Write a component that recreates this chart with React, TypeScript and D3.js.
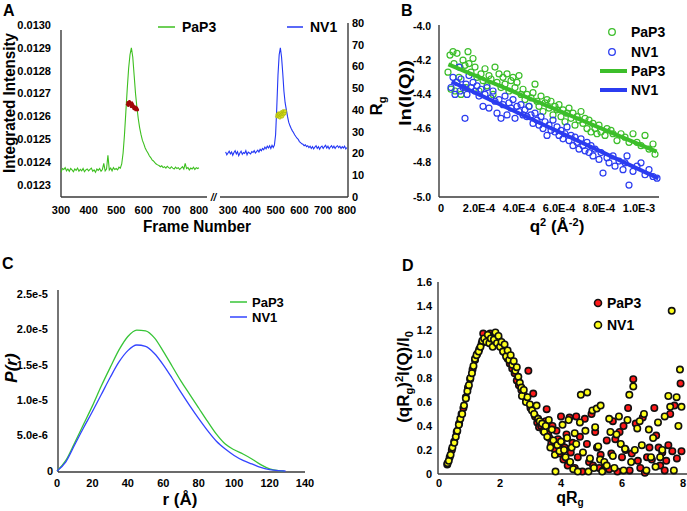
import React from "react";
import * as d3 from "d3";

const W = 687, H = 511;
const FONT = "'Liberation Sans', Arial, Helvetica, sans-serif";

// ---------- Panel A ----------
const frameTicks = [300, 400, 500, 600, 700, 800];
const intensityTicks = [0.0123, 0.0124, 0.0125, 0.0126, 0.0127, 0.0128, 0.0129, 0.0130];
const rgTicks = [0, 10, 20, 30, 40, 50, 60, 70, 80];
const pap3TraceStart = 300;
const pap3Trace = [
  0.012355, 0.012372, 0.012368, 0.012376, 0.012362, 0.01237, 0.01236, 0.012372, 0.012366, 0.012358,
  0.01237, 0.012364, 0.012374, 0.01236, 0.012368, 0.012362, 0.012372, 0.012358, 0.012366, 0.01237,
  0.012362, 0.012368, 0.012374, 0.01236, 0.012366, 0.012356, 0.01237, 0.012364, 0.012372, 0.01236,
  0.012368, 0.012395, 0.012362, 0.01237, 0.01243, 0.012366, 0.012374, 0.012362, 0.012376, 0.012368,
  0.012372, 0.012366, 0.012378, 0.012374, 0.012392, 0.01244, 0.01252, 0.01262, 0.01272, 0.01281,
  0.01287, 0.0129, 0.01286, 0.01278, 0.0127, 0.01264, 0.01259, 0.01255, 0.01252, 0.012495,
  0.01248, 0.012462, 0.01245, 0.01244, 0.012428, 0.01242, 0.01241, 0.012405, 0.012398, 0.012392,
  0.012388, 0.012385, 0.01238, 0.012384, 0.012376, 0.01238, 0.012374, 0.012382, 0.012376, 0.012372,
  0.01238, 0.012374, 0.01237, 0.012378, 0.012372, 0.012376, 0.012368, 0.012374, 0.01238, 0.01237,
  0.012395, 0.012372, 0.012376, 0.012366, 0.012374, 0.01237, 0.012378, 0.012368, 0.012376, 0.012372,
  0.012375,
];
const nv1TraceStart = 290;
const nv1Trace = [
  0.012445, 0.012432, 0.01244, 0.012448, 0.012436, 0.012444, 0.01243, 0.012442, 0.01245, 0.012436,
  0.012446, 0.012428, 0.01244, 0.012448, 0.012434, 0.012442, 0.012438, 0.01245, 0.012432, 0.012444,
  0.01244, 0.012436, 0.012446, 0.012442, 0.01245, 0.01244, 0.012446, 0.012452, 0.012444, 0.012456,
  0.01245, 0.01246, 0.012454, 0.012466, 0.012458, 0.01247, 0.012462, 0.012472, 0.01246, 0.012474,
  0.012464, 0.012475, 0.01252, 0.01264, 0.01278, 0.01287, 0.0129, 0.01286, 0.01279, 0.01271,
  0.01266, 0.01263, 0.0126, 0.012575, 0.01256, 0.012548, 0.012538, 0.01253, 0.01252, 0.012512,
  0.012505, 0.0125, 0.01249, 0.012485, 0.01248, 0.012478, 0.012472, 0.012476, 0.012468, 0.012472,
  0.012464, 0.01247, 0.01246, 0.012468, 0.012458, 0.012466, 0.012472, 0.01246, 0.012468, 0.012456,
  0.012466, 0.01247, 0.01246, 0.012468, 0.012474, 0.012462, 0.01247, 0.012458, 0.012466, 0.012472,
  0.012462, 0.01247, 0.01246, 0.012468, 0.012472, 0.012464, 0.01247, 0.01246, 0.012468, 0.012462,
  0.01247, 0.012458, 0.012464,
];
const pap3RgFrames = [540, 542, 544, 546, 548, 550, 552, 554, 556, 558, 560, 562, 564, 566, 568, 570, 572, 574, 576, 578];
const pap3Rg = [42.5, 43.5, 42, 43, 44, 42.5, 43.5, 41.5, 42.5, 43, 41.5, 42, 40.5, 41.5, 40.5, 41, 40, 41, 40.5, 40];
const nv1RgFrames = [506, 508, 510, 512, 514, 516, 518, 520, 522, 524, 526, 528, 530, 532, 534, 536, 538, 540];
const nv1Rg = [37, 38, 37.5, 38.5, 37, 38, 36.5, 38.5, 37.5, 39, 38, 37, 38.5, 39.5, 38, 39, 38.5, 39.5];

// ---------- Panel B (q^2 in units of 1e-4 Å^-2) ----------
const guinierXTicks = [0, 2, 4, 6, 8, 10];
const guinierYTicks = [-4.0, -4.2, -4.4, -4.6, -4.8, -5.0];
const pap3GuinierQ2 = [0.45,0.55,0.6,0.7,0.75,0.8,0.9,1.0,1.05,1.1,1.2,1.3,1.35,1.45,1.5,1.6,1.7,1.8,1.9,2.0,2.1,2.2,2.3,2.4,2.5,2.6,2.7,2.8,2.9,3.0,3.1,3.2,3.3,3.4,3.5,3.6,3.7,3.8,3.9,4.0,4.1,4.2,4.3,4.4,4.5,4.6,4.7,4.8,4.9,5.0,5.1,5.2,5.3,5.4,5.5,5.6,5.7,5.8,5.9,6.0,6.1,6.2,6.3,6.4,6.5,6.6,6.7,6.8,6.9,7.0,7.1,7.2,7.3,7.4,7.5,7.6,7.7,7.8,7.9,8.0,8.1,8.3,8.4,8.6,8.7,8.9,9.1,9.3,9.5,9.7,9.9,10.1,10.3,10.5,10.7,10.8];
const pap3GuinierLn = [-4.27,-4.17,-4.37,-4.15,-4.22,-4.38,-4.16,-4.3,-4.24,-4.4,-4.2,-4.23,-4.36,-4.15,-4.22,-4.27,-4.19,-4.24,-4.3,-4.38,-4.28,-4.32,-4.25,-4.35,-4.29,-4.31,-4.4,-4.24,-4.33,-4.28,-4.36,-4.3,-4.34,-4.28,-4.38,-4.32,-4.3,-4.36,-4.33,-4.29,-4.4,-4.37,-4.43,-4.4,-4.47,-4.42,-4.39,-4.34,-4.44,-4.47,-4.41,-4.5,-4.45,-4.43,-4.48,-4.44,-4.52,-4.47,-4.49,-4.46,-4.53,-4.49,-4.56,-4.51,-4.48,-4.54,-4.51,-4.58,-4.53,-4.55,-4.5,-4.57,-4.54,-4.6,-4.55,-4.62,-4.57,-4.6,-4.63,-4.58,-4.62,-4.64,-4.6,-4.61,-4.63,-4.67,-4.63,-4.65,-4.68,-4.63,-4.68,-4.7,-4.64,-4.72,-4.69,-4.75];
const nv1GuinierQ2 = [0.6,0.7,0.8,0.9,1.0,1.05,1.1,1.2,1.3,1.35,1.4,1.5,1.6,1.7,1.8,1.9,2.0,2.1,2.2,2.3,2.4,2.5,2.6,2.7,2.8,2.9,3.0,3.1,3.2,3.3,3.4,3.5,3.6,3.7,3.8,3.9,4.0,4.1,4.2,4.3,4.4,4.5,4.6,4.7,4.8,4.9,5.0,5.1,5.2,5.3,5.4,5.5,5.6,5.7,5.8,5.9,6.0,6.1,6.2,6.3,6.4,6.5,6.6,6.7,6.8,6.9,7.0,7.1,7.2,7.3,7.4,7.5,7.6,7.7,7.8,8.0,8.1,8.2,8.4,8.5,8.7,8.8,9.0,9.2,9.3,9.4,9.5,9.7,9.9,10.1,10.3,10.5,10.7,10.9];
const nv1GuinierLn = [-4.36,-4.3,-4.4,-4.33,-4.24,-4.38,-4.31,-4.36,-4.54,-4.34,-4.4,-4.29,-4.36,-4.33,-4.38,-4.35,-4.41,-4.37,-4.47,-4.4,-4.36,-4.48,-4.42,-4.38,-4.44,-4.51,-4.43,-4.54,-4.46,-4.41,-4.52,-4.45,-4.48,-4.43,-4.54,-4.47,-4.5,-4.46,-4.52,-4.49,-4.53,-4.47,-4.52,-4.57,-4.51,-4.55,-4.58,-4.53,-4.6,-4.56,-4.64,-4.58,-4.61,-4.55,-4.62,-4.59,-4.64,-4.61,-4.66,-4.63,-4.59,-4.67,-4.64,-4.7,-4.65,-4.68,-4.72,-4.66,-4.7,-4.73,-4.68,-4.74,-4.7,-4.76,-4.72,-4.78,-4.74,-4.86,-4.77,-4.8,-4.76,-4.82,-4.79,-4.84,-4.8,-4.76,-4.93,-4.85,-4.82,-4.8,-4.87,-4.84,-4.88,-4.89];
const pap3FitQ2 = [0.47, 10.88];
const pap3FitLn = [-4.224, -4.735];
const nv1FitQ2 = [0.63, 10.97];
const nv1FitLn = [-4.326, -4.891];

// ---------- Panel C (P(r) in units of 1e-5) ----------
const prXTicks = [0, 20, 40, 60, 80, 100, 120, 140];
const prYTicks = [0, 0.5, 1.0, 1.5, 2.0, 2.5];
const prYLabels = ["0", "5.0e-6", "1.0e-5", "1.5e-5", "2.0e-5", "2.5e-5"];
const pap3R = [0,5,10,15,20,25,30,35,40,45,50,55,60,65,70,75,80,85,90,95,100,105,110,115,120,125,128];
const pap3Pr = [0,0.15,0.4,0.66,0.92,1.2,1.46,1.71,1.9,1.99,1.98,1.88,1.69,1.48,1.27,1.08,0.89,0.7,0.52,0.38,0.3,0.24,0.17,0.09,0.03,0.005,0];
const nv1R = [0,5,10,15,20,25,30,35,40,45,50,55,60,65,70,75,80,85,90,95,100,105,110,115,120,125,129];
const nv1Pr = [0,0.13,0.37,0.61,0.84,1.08,1.32,1.54,1.7,1.78,1.76,1.66,1.5,1.31,1.11,0.92,0.74,0.57,0.42,0.31,0.22,0.15,0.1,0.05,0.02,0.005,0];

// ---------- Panel D ----------
const kratkyXTicks = [0, 2, 4, 6, 8];
const kratkyYTicks = [0, 0.2, 0.4, 0.6, 0.8, 1.0, 1.2, 1.4, 1.6];
const pap3QRg = [0.27,0.35,0.42,0.5,0.58,0.66,0.74,0.8,0.88,0.95,1.02,1.1,1.18,1.25,1.32,1.4,1.45,1.52,1.6,1.68,1.75,1.82,1.88,1.95,2.02,2.1,2.18,2.25,2.32,2.4,2.48,2.55,2.62,2.7,2.78,2.85,2.93,3.0,3.09,3.15,3.22,3.28,
  3.35,3.42,3.5,3.53,3.58,3.62,3.68,3.72,3.78,3.85,3.9,3.95,4.0,4.02,4.08,4.12,4.18,4.22,4.28,4.32,4.38,4.45,4.5,4.55,4.62,4.7,4.78,4.85,4.92,5.0,5.05,5.12,5.18,5.25,5.3,5.38,5.45,5.5,5.58,5.65,5.7,5.78,5.85,5.92,6.0,6.05,6.12,6.2,6.25,6.32,6.37,6.45,6.52,6.6,6.68,6.75,6.82,6.9,6.98,7.06,7.12,7.2,7.25,7.32,7.4,7.45,7.52,7.58,7.65,7.72,7.8,7.92,7.95];
const pap3Kratky = [0.08,0.14,0.2,0.27,0.35,0.42,0.5,0.55,0.64,0.72,0.79,0.87,0.95,1.0,1.04,1.09,1.17,1.12,1.14,1.17,1.13,1.16,1.1,1.13,1.07,1.04,1.0,0.96,0.92,0.88,0.84,0.78,0.74,0.7,0.66,0.62,0.86,0.55,0.67,0.48,0.43,0.39,
  0.4,0.36,0.44,0.54,0.33,0.3,0.25,0.4,0.21,0.36,0.29,0.17,0.48,0.26,0.12,0.22,0.33,0.07,0.47,0.18,0.26,0.05,0.48,0.14,0.31,0.02,0.46,0.25,0.1,0.5,0.07,0.35,0.22,0.05,0.16,0.03,0.07,0.28,0.04,0.17,0.44,0.29,0.02,0.35,0.14,0.4,0.2,0.55,0.03,0.17,0.79,0.42,0.11,0.05,0.47,0.01,0.14,0.22,0.12,0.55,0.32,0.22,0.07,0.18,0.03,0.11,0.24,0.5,0.19,0.57,0.13,0.755,0.19];
const nv1QRg = [0.28,0.32,0.38,0.44,0.5,0.55,0.6,0.65,0.7,0.76,0.82,0.88,0.93,0.98,1.03,1.08,1.13,1.18,1.23,1.3,1.36,1.42,1.48,1.55,1.6,1.65,1.7,1.76,1.8,1.85,1.9,1.95,2.0,2.05,2.1,2.15,2.2,2.25,2.3,2.35,2.4,2.45,2.5,2.55,2.6,2.65,2.7,2.72,2.78,2.85,2.9,2.98,3.05,3.12,3.2,3.25,
  3.3,3.38,3.45,3.5,3.55,3.6,3.65,3.7,3.75,3.8,3.82,3.88,3.95,4.0,4.05,4.1,4.15,4.2,4.25,4.3,4.35,4.4,4.45,4.5,4.55,4.62,4.65,4.72,4.8,4.86,4.9,4.95,5.03,5.08,5.12,5.17,5.22,5.28,5.3,5.35,5.42,5.5,5.58,5.62,5.7,5.75,5.82,5.9,5.96,6.05,6.1,6.18,6.24,6.3,6.37,6.42,6.5,6.58,6.65,6.72,6.8,6.88,6.95,7.02,7.1,7.18,7.25,7.32,7.4,7.52,7.58,7.63,7.7,7.79,7.85,7.9,7.95];
const nv1Kratky = [0.09,0.11,0.16,0.22,0.26,0.31,0.36,0.41,0.46,0.5,0.57,0.63,0.69,0.74,0.8,0.84,0.9,0.96,0.99,1.02,1.06,1.11,1.13,1.1,1.16,1.09,1.13,1.06,1.12,1.18,1.09,1.15,1.06,1.1,1.02,1.08,0.98,1.03,0.95,0.99,0.91,0.94,0.86,0.89,0.81,0.76,0.72,0.65,0.7,0.6,0.64,0.58,0.53,0.5,0.57,0.46,
  0.44,0.42,0.35,0.4,0.31,0.45,0.22,0.37,0.28,0.16,0.02,0.24,0.19,0.27,0.41,0.2,0.14,0.3,0.45,0.1,0.22,0.04,0.34,0.25,0.02,0.43,0.66,0.18,0.36,0.68,0.02,0.13,0.53,0.05,0.39,0.545,0.23,0.12,0.57,0.02,0.1,0.07,0.46,0.35,0.15,0.05,0.33,0.48,0.25,0.03,0.21,0.45,0.66,0.1,0.73,0.2,0.38,0.44,0.24,0.5,0.03,0.37,0.14,0.3,0.06,0.43,0.14,0.2,0.48,0.65,0.56,1.36,0.03,0.64,0.4,0.87,0.56];

const GREEN_A = "#3dbf1f";
const BLUE_A = "#2337f5";
const GREEN = "#3cbe2a";
const BLUE = "#2b3cf0";
const AXIS = "#3a3a3a";

export default function App() {
  // Panel A scales
  const xA1 = d3.scaleLinear().domain([300, 800]).range([61, 199]);
  const xA2 = d3.scaleLinear().domain([300, 800]).range([228, 347]);
  const yAI = d3.scaleLinear().domain([0.0123, 0.013]).range([185, 25]);
  const yARg = d3.scaleLinear().domain([0, 80]).range([197, 23]);
  const pap3Frames = pap3Trace.map((_, i) => pap3TraceStart + 5 * i);
  const nv1Frames = nv1Trace.map((_, i) => nv1TraceStart + 5 * i);
  const lineA1 = d3.line<number>().x((_, i) => xA1(pap3Frames[i])).y((d) => yAI(d));
  const lineA2 = d3.line<number>().x((_, i) => xA2(nv1Frames[i])).y((d) => yAI(d));
  const rgLine1 = d3.line<number>().x((_, i) => xA1(pap3RgFrames[i])).y((d) => yARg(d));
  const rgLine2 = d3.line<number>().x((_, i) => xA2(nv1RgFrames[i])).y((d) => yARg(d));

  // Panel B scales
  const xB = d3.scaleLinear().domain([0, 11]).range([439, 659]);
  const yB = d3.scaleLinear().domain([-5, -4]).range([197, 26]);
  const fmtB = (v: number) => (v === 0 ? "0" : (v * 1e-4).toExponential(1).toUpperCase());

  // Panel C scales
  const xC = d3.scaleLinear().domain([0, 140]).range([57, 305]);
  const yC = d3.scaleLinear().domain([0, 2.5]).range([471, 294]);
  const lineC = (rs: number[]) =>
    d3.line<number>().x((_, i) => xC(rs[i])).y((d) => yC(d)).curve(d3.curveMonotoneX);

  // Panel D scales
  const xD = d3.scaleLinear().domain([0, 8]).range([439, 683]);
  const yD = d3.scaleLinear().domain([0, 1.6]).range([474, 282]);

  const bold = { fontFamily: FONT, fontWeight: 700 } as const;

  return (
    <svg width={W} height={H} viewBox={`0 0 ${W} ${H}`} style={{ display: "block", background: "#fff" }}>
      <style>{"body{margin:0}"}</style>
      <rect width={W} height={H} fill="#fff" />

      {/* ================= Panel A ================= */}
      <text x={3} y={16} fontSize={16} {...bold}>A</text>
      <line x1={61} y1={30} x2={61} y2={197} stroke={AXIS} strokeWidth={1.4} />
      <line x1={61} y1={197} x2={207} y2={197} stroke={AXIS} strokeWidth={1.4} />
      <line x1={220} y1={197} x2={348} y2={197} stroke={AXIS} strokeWidth={1.4} />
      <line x1={348} y1={23} x2={348} y2={197} stroke={AXIS} strokeWidth={1.4} />
      <text x={213.5} y={201} fontSize={10} textAnchor="middle" fontStyle="italic" {...bold}>//</text>
      {intensityTicks.map((t) => (
        <text key={t} x={51} y={yAI(t)} dy="0.35em" fontSize={11} textAnchor="end" {...bold}>{t.toFixed(4)}</text>
      ))}
      {rgTicks.map((t) => (
        <text key={t} x={352} y={yARg(t)} dy="0.35em" fontSize={11} textAnchor="start" {...bold}>{t}</text>
      ))}
      {frameTicks.map((t) => (
        <text key={"a1" + t} x={xA1(t)} y={214} fontSize={11} textAnchor="middle" {...bold}>{t}</text>
      ))}
      {frameTicks.map((t) => (
        <text key={"a2" + t} x={xA2(t)} y={214} fontSize={11} textAnchor="middle" {...bold}>{t}</text>
      ))}
      <path d={lineA1(pap3Trace) || ""} fill="none" stroke={GREEN_A} strokeWidth={1.1} />
      <path d={lineA2(nv1Trace) || ""} fill="none" stroke={BLUE_A} strokeWidth={1.1} />
      <path d={rgLine1(pap3Rg) || ""} fill="none" stroke="#b01010" strokeWidth={1.8} />
      {pap3Rg.map((v, i) => (
        <circle key={"r" + i} cx={xA1(pap3RgFrames[i])} cy={yARg(v)} r={1.4} fill="#a00808" />
      ))}
      <path d={rgLine2(nv1Rg) || ""} fill="none" stroke="#c8d21a" strokeWidth={1.8} />
      {nv1Rg.map((v, i) => (
        <circle key={"y" + i} cx={xA2(nv1RgFrames[i])} cy={yARg(v)} r={1.6} fill="#d7e01e" stroke="#9ea80a" strokeWidth={0.5} />
      ))}
      <line x1={158} y1={27} x2={175} y2={27} stroke={GREEN_A} strokeWidth={1.5} />
      <text x={182} y={32} fontSize={14} {...bold}>PaP3</text>
      <line x1={287} y1={27} x2={303} y2={27} stroke={BLUE_A} strokeWidth={1.5} />
      <text x={310} y={32} fontSize={14} {...bold}>NV1</text>
      <text transform="translate(15,103) rotate(-90)" fontSize={16} textAnchor="middle" textLength={140} lengthAdjust="spacingAndGlyphs" {...bold}>Integrated Intensity</text>
      <text x={197} y={232} fontSize={16} textAnchor="middle" textLength={108} lengthAdjust="spacingAndGlyphs" {...bold}>Frame Number</text>
      <text transform="translate(382,106) rotate(-90)" fontSize={17} textAnchor="middle" {...bold}>
        R<tspan dy={4} fontSize={11}>g</tspan>
      </text>

      {/* ================= Panel B ================= */}
      <text x={401} y={16} fontSize={16} {...bold}>B</text>
      <line x1={439} y1={25} x2={439} y2={197} stroke={AXIS} strokeWidth={1.4} />
      <line x1={439} y1={197} x2={659} y2={197} stroke={AXIS} strokeWidth={1.4} />
      {guinierYTicks.map((t) => (
        <text key={t} x={431} y={yB(t)} dy="0.35em" fontSize={10.5} textAnchor="end" {...bold}>{t.toFixed(1)}</text>
      ))}
      {guinierXTicks.map((t) => (
        <text key={t} x={xB(t) + (t === 0 ? 2 : 0)} y={212} fontSize={11} textAnchor="middle" {...bold}>{fmtB(t)}</text>
      ))}
      {pap3GuinierLn.map((v, i) => (
        <circle key={"g" + i} cx={xB(pap3GuinierQ2[i])} cy={yB(v)} r={3} fill="none" stroke={GREEN} strokeWidth={1.2} />
      ))}
      {nv1GuinierLn.map((v, i) => (
        <circle key={"b" + i} cx={xB(nv1GuinierQ2[i])} cy={yB(v)} r={3} fill="none" stroke={BLUE} strokeWidth={1.2} />
      ))}
      <line x1={xB(pap3FitQ2[0])} y1={yB(pap3FitLn[0])} x2={xB(pap3FitQ2[1])} y2={yB(pap3FitLn[1])} stroke={GREEN} strokeWidth={4} />
      <line x1={xB(nv1FitQ2[0])} y1={yB(nv1FitLn[0])} x2={xB(nv1FitQ2[1])} y2={yB(nv1FitLn[1])} stroke={BLUE} strokeWidth={4} />
      <circle cx={612} cy={32} r={3.3} fill="none" stroke={GREEN} strokeWidth={1.3} />
      <text x={631} y={37} fontSize={14} {...bold}>PaP3</text>
      <circle cx={612} cy={52} r={3.3} fill="none" stroke={BLUE} strokeWidth={1.3} />
      <text x={631} y={57} fontSize={14} {...bold}>NV1</text>
      <line x1={600} y1={71} x2={627} y2={71} stroke={GREEN} strokeWidth={4} />
      <text x={631} y={76} fontSize={14} {...bold}>PaP3</text>
      <line x1={600} y1={90} x2={627} y2={90} stroke={BLUE} strokeWidth={4} />
      <text x={631} y={95} fontSize={14} {...bold}>NV1</text>
      <text transform="translate(411,93) rotate(-90)" fontSize={17} textAnchor="middle" textLength={66} lengthAdjust="spacingAndGlyphs" {...bold}>ln(I(Q))</text>
      <text x={557} y={232} fontSize={17} textAnchor="middle" {...bold}>
        q<tspan dy={-6} fontSize={11}>2</tspan>
        <tspan dy={6}> (Å</tspan>
        <tspan dy={-6} fontSize={11}>-2</tspan>
        <tspan dy={6}>)</tspan>
      </text>

      {/* ================= Panel C ================= */}
      <text x={2} y={269} fontSize={16} {...bold}>C</text>
      <line x1={58} y1={290} x2={58} y2={472} stroke={AXIS} strokeWidth={1.4} />
      <line x1={58} y1={472} x2={305} y2={472} stroke={AXIS} strokeWidth={1.4} />
      {prYTicks.map((t, i) => (
        <text key={t} x={i === 0 ? 53 : 48} y={yC(t)} dy="0.35em" fontSize={11} textAnchor="end" {...bold}>{prYLabels[i]}</text>
      ))}
      {prXTicks.map((t) => (
        <text key={t} x={xC(t)} y={487} fontSize={11} textAnchor="middle" {...bold}>{t}</text>
      ))}
      <path d={lineC(pap3R)(pap3Pr) || ""} fill="none" stroke="#37c437" strokeWidth={1.3} />
      <path d={lineC(nv1R)(nv1Pr) || ""} fill="none" stroke="#3344ff" strokeWidth={1.3} />
      <line x1={230} y1={302} x2={247} y2={302} stroke="#37c437" strokeWidth={1.5} />
      <text x={252} y={307} fontSize={13} {...bold}>PaP3</text>
      <line x1={230} y1={317} x2={247} y2={317} stroke="#3344ff" strokeWidth={1.5} />
      <text x={252} y={322} fontSize={13} {...bold}>NV1</text>
      <text transform="translate(17,368) rotate(-90)" fontSize={17} textAnchor="middle" fontStyle="italic" {...bold}>P(r)</text>
      <text x={180} y={505} fontSize={17} textAnchor="middle" {...bold}>r (Å)</text>

      {/* ================= Panel D ================= */}
      <text x={402} y={271} fontSize={16} {...bold}>D</text>
      <line x1={438} y1={282} x2={438} y2={474} stroke={AXIS} strokeWidth={1.4} />
      <line x1={438} y1={474} x2={687} y2={474} stroke={AXIS} strokeWidth={1.4} />
      {kratkyYTicks.map((t) => (
        <text key={t} x={432} y={yD(t)} dy="0.35em" fontSize={11} textAnchor="end" {...bold}>{t === 0 ? "0" : t.toFixed(1)}</text>
      ))}
      {kratkyXTicks.map((t) => (
        <text key={t} x={xD(t)} y={487} fontSize={11} textAnchor="middle" {...bold}>{t}</text>
      ))}
      {pap3Kratky.map((v, i) => (
        <circle key={"kr" + i} cx={xD(pap3QRg[i])} cy={yD(v)} r={3.2} fill="#ff1a1a" stroke="#111" strokeWidth={1.6} />
      ))}
      {nv1Kratky.map((v, i) => (
        <circle key={"ky" + i} cx={xD(nv1QRg[i])} cy={yD(v)} r={3.2} fill="#ffff1a" stroke="#111" strokeWidth={1.6} />
      ))}
      <circle cx={598} cy={303} r={3.5} fill="#ff1a1a" stroke="#111" strokeWidth={1.6} />
      <text x={607} y={308} fontSize={14} {...bold}>PaP3</text>
      <circle cx={598} cy={325} r={3.5} fill="#ffff1a" stroke="#111" strokeWidth={1.6} />
      <text x={607} y={330} fontSize={14} {...bold}>NV1</text>
      <text transform="translate(409,377) rotate(-90)" fontSize={17} textAnchor="middle" {...bold}>
        (qR<tspan dy={4} fontSize={11}>g</tspan>
        <tspan dy={-4}>)</tspan>
        <tspan dy={-6} fontSize={11}>2</tspan>
        <tspan dy={6}>I(Q)/I</tspan>
        <tspan dy={4} fontSize={11}>0</tspan>
      </text>
      <text x={570} y={503} fontSize={16} textAnchor="middle" {...bold}>
        qR<tspan dy={3} fontSize={10}>g</tspan>
      </text>
    </svg>
  );
}
